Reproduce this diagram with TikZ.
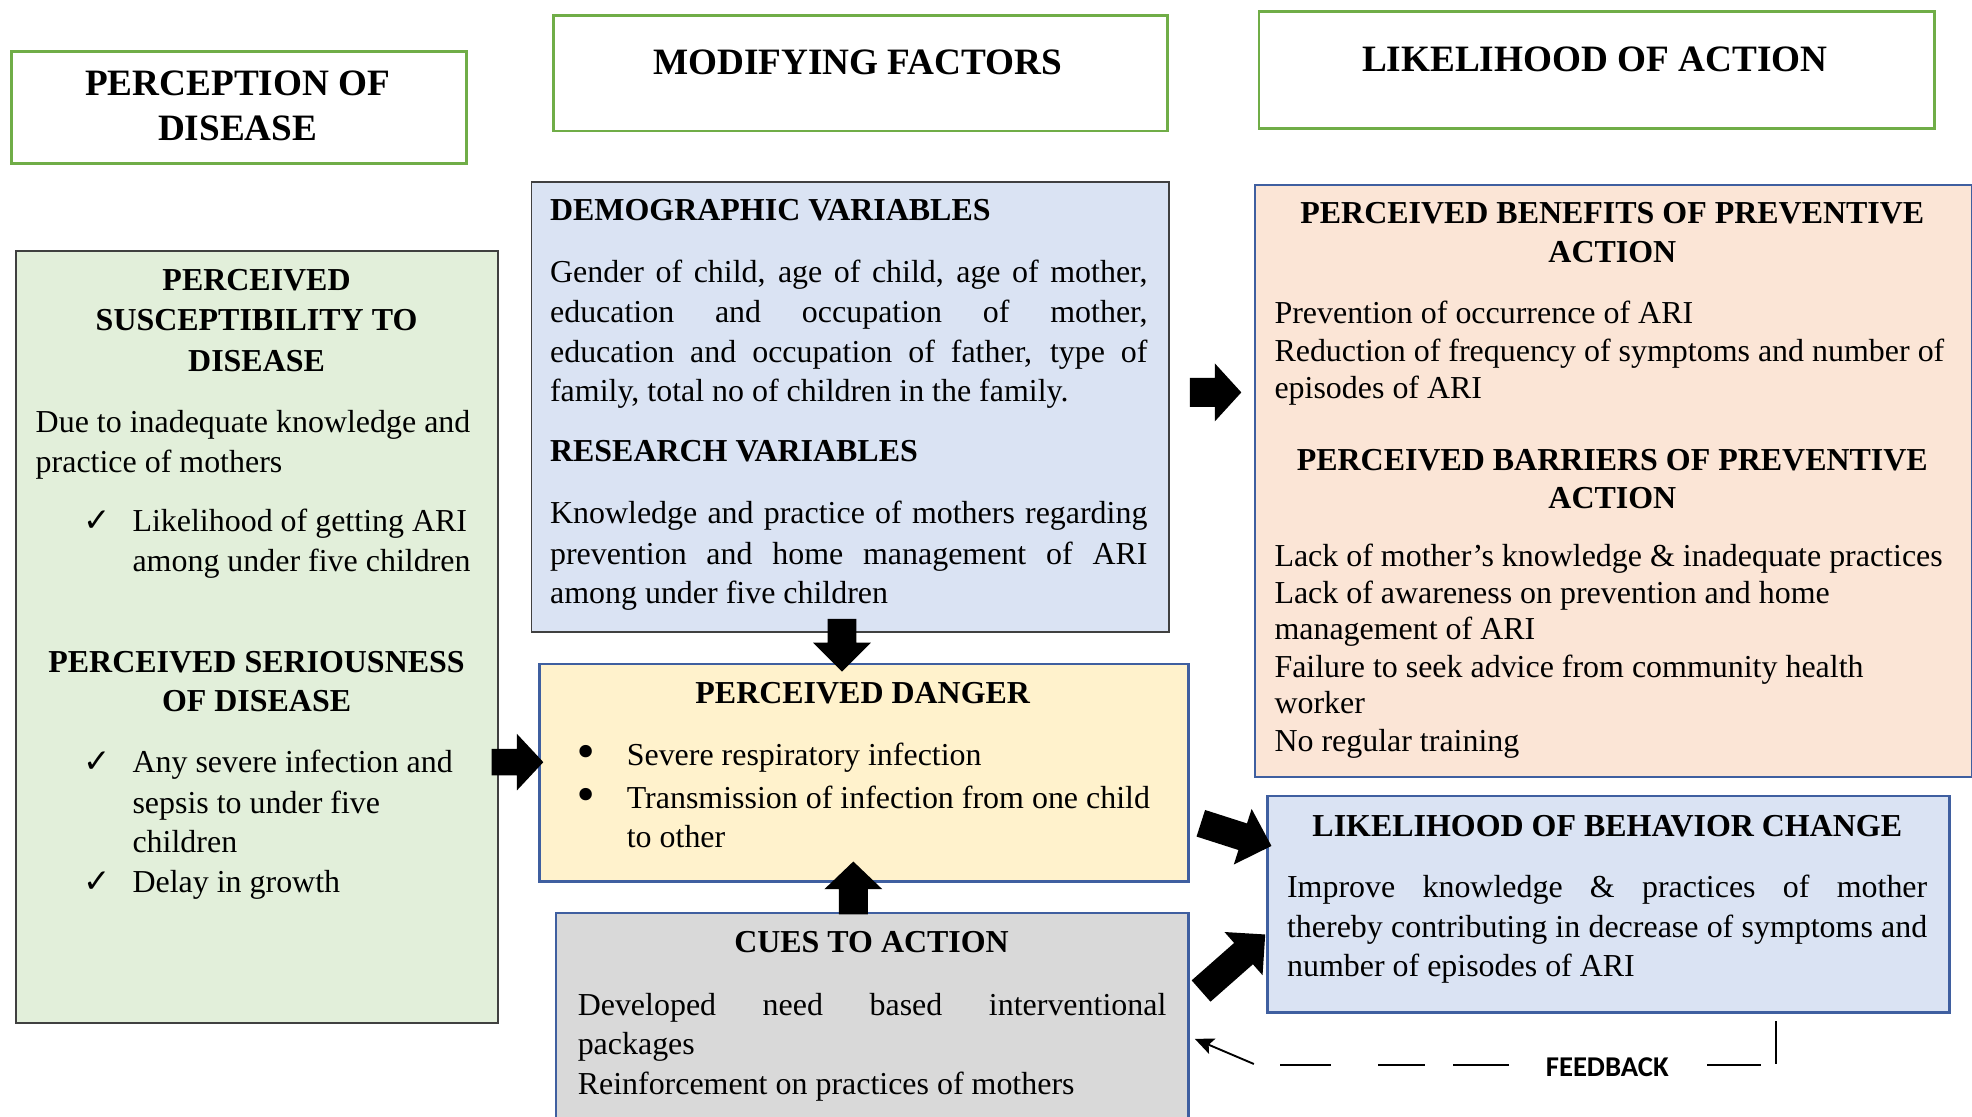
\documentclass[tikz,border=0pt]{standalone}
\usepackage{fontspec}
\setmainfont{Liberation Serif}
\newfontfamily\symfont{DejaVu Sans}
\newfontfamily\fbfont{Carlito}
\usetikzlibrary{arrows.meta}
\definecolor{titlegreen}{HTML}{70AD47}
\definecolor{greenfill}{HTML}{E2EFDA}
\definecolor{bluefill}{HTML}{DAE3F3}
\definecolor{yellowfill}{HTML}{FFF2CC}
\definecolor{grayfill}{HTML}{D9D9D9}
\definecolor{peachfill}{HTML}{FBE5D6}
\definecolor{blueline}{HTML}{3F5FA0}
\definecolor{darkline}{HTML}{404040}
\newcommand\bodyfont{\fontsize{12.7}{16}\selectfont}
\newcommand\headfont{\fontsize{12.7}{16}\selectfont\bfseries}
\newcommand\titlefont{\fontsize{14.8}{18}\selectfont\bfseries}
\newcommand\chk{{\symfont\fontsize{13}{14}\selectfont ✓}}
\newcommand\bul{{\symfont\fontsize{17}{18}\selectfont •}}
\newcommand\bx[6]{\node[#6, anchor=north west, inner sep=0pt, minimum width={(#4-#2)*0.5pt}, minimum height={(#5-#3)*0.5pt}] (#1) at (#2,#3) {};}
\newcommand\blockarrow[6]{\begin{scope}[shift={(#1)},rotate=#2]\fill[black] (0,#4) -- ({#3-#6},#4) -- ({#3-#6},#5) -- (#3,0) -- ({#3-#6},-#5) -- ({#3-#6},-#4) -- (0,-#4) -- cycle;\end{scope}}
\tikzset{
  titlebox/.style={draw=titlegreen, line width=1.1pt, fill=white},
  darkbox/.style={draw=darkline, line width=0.7pt},
  bluebox/.style={draw=blueline, line width=1pt},
  body/.style={font=\bodyfont, inner sep=0pt, anchor=base west},
  head/.style={font=\headfont, inner sep=0pt, anchor=base},
  headl/.style={font=\headfont, inner sep=0pt, anchor=base west},
  ttl/.style={font=\titlefont, inner sep=0pt, anchor=base},
  symb/.style={inner sep=0pt, anchor=base},
  fbline/.style={line width=0.75pt, black},
}
\begin{document}
\begin{tikzpicture}[x=0.5pt,y=-0.5pt]
\useasboundingbox (0,0) rectangle (1568,888);
\fill[white] (0,0) rectangle (1568,888);
% boxes
\bx{t1}{8}{40}{370}{129}{titlebox}
\bx{t2}{439}{11}{927}{103}{titlebox}
\bx{t3}{1000}{8}{1537}{101}{titlebox}
\bx{g}{12}{199}{395}{813}{darkbox, fill=greenfill}
\bx{d}{422}{144}{929}{502}{darkbox, fill=bluefill}
\bx{y}{428}{527}{944}{700}{bluebox, fill=yellowfill}
\bx{c}{442}{726}{944}{888}{fill=grayfill}
\draw[blueline, line width=1pt] (c.south west) -- (c.north west) -- (c.north east) -- (c.south east);
\bx{p}{997}{146}{1567}{617}{bluebox, fill=peachfill}
\bx{l}{1007}{632}{1549}{804}{bluebox, fill=bluefill}
% titles
\node[ttl] (t1a) at (189,76) {PERCEPTION OF};
\node[ttl] (t1b) at (189,112) {DISEASE};
\node[ttl] (t2a) at (682,59) {MODIFYING FACTORS};
\node[ttl] (t3a) at (1268,57) {LIKELIHOOD OF ACTION};
% green box
\node[head] (g1) at (204,231) {PERCEIVED};
\node[head] (g2) at (204,263) {SUSCEPTIBILITY TO};
\node[head] (g3) at (204,295) {DISEASE};
\node[body] (g4) at (28,343.5) {Due to inadequate knowledge and};
\node[body] (g5) at (28,375.5) {practice of mothers};
\node[symb] (gm1) at (77,422.5) {\chk};
\node[body] (g6) at (105,422.5) {Likelihood of getting ARI};
\node[body] (g7) at (105,454.5) {among under five children};
\node[head] (g8) at (204,535) {PERCEIVED SERIOUSNESS};
\node[head] (g9) at (204,566) {OF DISEASE};
\node[symb] (gm2) at (77,614.5) {\chk};
\node[body] (g10) at (105,614.5) {Any severe infection and};
\node[body] (g11) at (105,646.5) {sepsis to under five};
\node[body] (g12) at (105,677.5) {children};
\node[symb] (gm3) at (77,709.5) {\chk};
\node[body] (g13) at (105,709.5) {Delay in growth};
% demographic box
\node[headl] (d1) at (437,175) {DEMOGRAPHIC VARIABLES};
\node[body] (d2) at (437,224.5) {\makebox[237.5pt][s]{Gender of child, age of child, age of mother,}};
\node[body] (d3) at (437,256.5) {\makebox[237.5pt][s]{education and occupation of mother,}};
\node[body] (d4) at (437,288.5) {\makebox[237.5pt][s]{education and occupation of father, type of}};
\node[body] (d5) at (437,319.5) {family, total no of children in the family.};
\node[headl] (d6) at (437,367) {RESEARCH VARIABLES};
\node[body] (d7) at (437,416.5) {\makebox[237.5pt][s]{Knowledge and practice of mothers regarding}};
\node[body] (d8) at (437,448.5) {\makebox[237.5pt][s]{prevention and home management of ARI}};
\node[body] (d9) at (437,479.5) {among under five children};
% yellow box
\node[head] (y1) at (686,559) {PERCEIVED DANGER};
\node[symb] (yb1) at (466,610) {\bul};
\node[body] (y2) at (498,608.5) {Severe respiratory infection};
\node[symb] (yb2) at (466,644.5) {\bul};
\node[body] (y3) at (498,643) {Transmission of infection from one child};
\node[body] (y4) at (498,674) {to other};
% cues box
\node[head] (c1) at (693,757) {CUES TO ACTION};
\node[body] (c2) at (459,807.5) {\makebox[234pt][s]{Developed need based interventional}};
\node[body] (c3) at (459,838.5) {packages};
\node[body] (c4) at (459,870.5) {Reinforcement on practices of mothers};
% peach box
\node[head] (p1) at (1282,178) {PERCEIVED BENEFITS OF PREVENTIVE};
\node[head] (p2) at (1282,209) {ACTION};
\node[body] (p3) at (1013,257.5) {Prevention of occurrence of ARI};
\node[body] (p4) at (1013,287.5) {Reduction of frequency of symptoms and number of};
\node[body] (p5) at (1013,316.5) {episodes of ARI};
\node[head] (p6) at (1282,374) {PERCEIVED BARRIERS OF PREVENTIVE};
\node[head] (p7) at (1282,404) {ACTION};
\node[body] (p8) at (1013,450.5) {Lack of mother’s knowledge \& inadequate practices};
\node[body] (p9) at (1013,479.5) {Lack of awareness on prevention and home};
\node[body] (p10) at (1013,508.5) {management of ARI};
\node[body] (p11) at (1013,538.5) {Failure to seek advice from community health};
\node[body] (p12) at (1013,567.5) {worker};
\node[body] (p13) at (1013,597.5) {No regular training};
% behaviour change box
\node[head] (l1) at (1278,665) {LIKELIHOOD OF BEHAVIOR CHANGE};
\node[body] (l2) at (1023,713.5) {\makebox[254.5pt][s]{Improve knowledge \& practices of mother}};
\node[body] (l3) at (1023,745.5) {\makebox[254.5pt][s]{thereby contributing in decrease of symptoms and}};
\node[body] (l4) at (1023,776.5) {number of episodes of ARI};
% block arrows
\coordinate (a1) at (946,312);
\coordinate (a2) at (391,606);
\coordinate (a3) at (669.5,492);
\coordinate (a4) at (678.5,727);
\coordinate (a5) at (954.8,654.6);
\coordinate (a6) at (955,788);
\blockarrow{a1}{0}{41}{11.5}{23}{21}
\blockarrow{a2}{0}{41}{10.5}{22.5}{21}
\blockarrow{a3}{-90}{42}{11.5}{23}{23}
\blockarrow{a4}{90}{42}{11.5}{23}{22}
\blockarrow{a5}{-17.8}{59}{11.1}{23.2}{24}
\blockarrow{a6}{41.4}{68}{11.3}{22.9}{23}
% feedback
\node[font=\fbfont\fontsize{11.4}{13}\selectfont\bfseries, inner sep=0pt, anchor=base] (fb) at (1278,856) {FEEDBACK};
\coordinate (fbtop) at (1412,812);
\coordinate (fbcorner) at (1412,846);
\coordinate (fbtail) at (997,846);
\coordinate (fbtip) at (950,826);
\draw[fbline] (fbtop) -- (fbcorner);
\draw[fbline] (1400,847) -- (1357,847) (1200,847) -- (1155,847) (1133,847) -- (1096,847) (1058,847) -- (1018,847);
\draw[fbline, -{Stealth[length=7.5pt, width=6.5pt, inset=1.5pt]}] (fbtail) -- (fbtip);
\end{tikzpicture}
\end{document}
